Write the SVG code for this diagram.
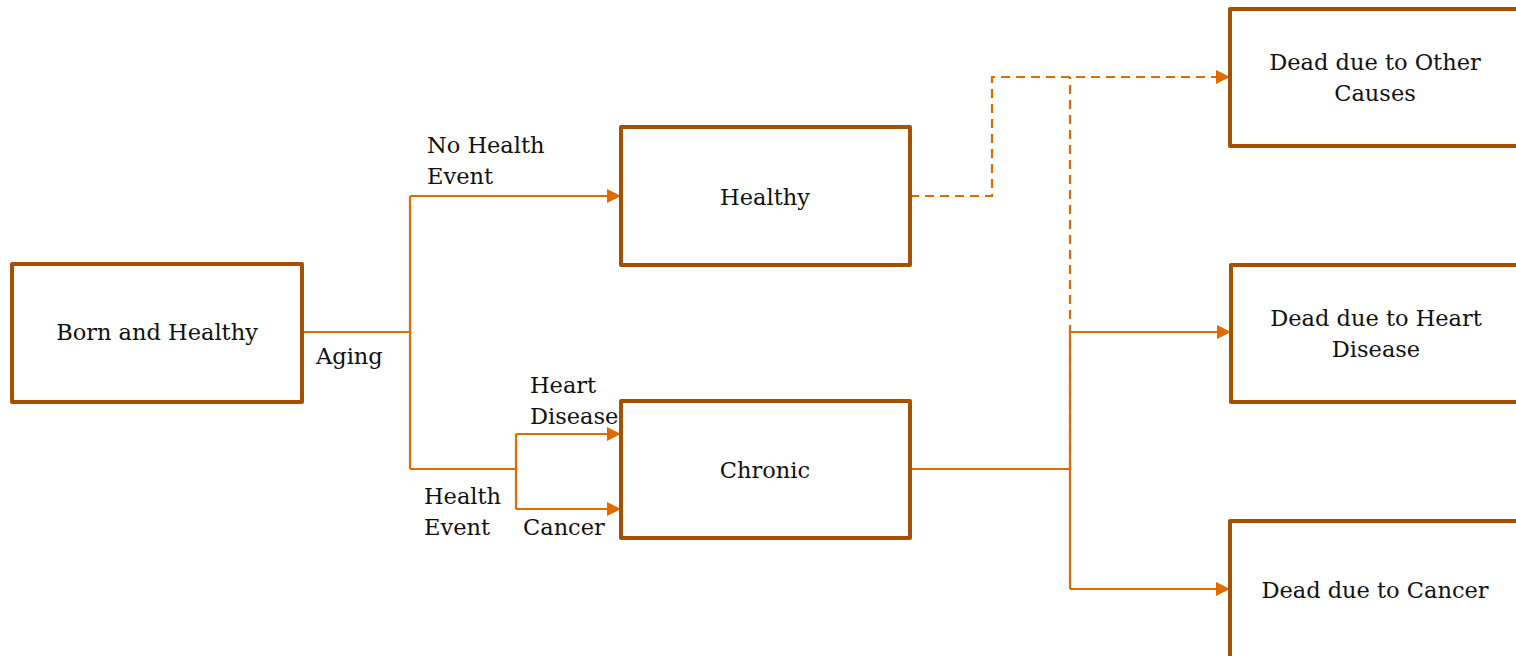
<svg xmlns="http://www.w3.org/2000/svg" width="1516" height="656" viewBox="0 0 1516 656">
  <style>
    .box { fill: #ffffff; stroke: #A65000; stroke-width: 4; stroke-linejoin: round; }
    .lbl { font-family: "DejaVu Serif", "Liberation Serif", serif; font-size: 22.5px; fill: #111111; }
    .ctr { text-anchor: middle; }
    .wire { fill: none; stroke: #E06C00; stroke-width: 2.2; }
    .dash { stroke-dasharray: 9 6; }
  </style>
  <defs>
    <marker id="arrow" viewBox="0 0 10 10" refX="10" refY="5" markerWidth="14" markerHeight="14" markerUnits="userSpaceOnUse" orient="auto">
      <path d="M0,0 L10,5 L0,10 Z" fill="#E06C00"/>
    </marker>
  </defs>

  <g id="connectors">
    <!-- born -> split -->
    <path class="wire" d="M302,332 H410 M410,196 V469"/>
    <path class="wire" d="M410,196 H621" marker-end="url(#arrow)"/>
    <path class="wire" d="M410,469 H516 M516,434 V509"/>
    <path class="wire" d="M516,434 H621" marker-end="url(#arrow)"/>
    <path class="wire" d="M516,509 H621" marker-end="url(#arrow)"/>
    <!-- healthy -> other causes -->
    <path class="wire dash" d="M910,196 H992 V77 H1230" marker-end="url(#arrow)"/>
    <!-- chronic -> other causes -->
    <path class="wire dash" d="M1070,469 V77"/>
    <!-- chronic -> heart disease / cancer -->
    <path class="wire" d="M910,469 H1070 M1070,332 V589"/>
    <path class="wire" d="M1070,332 H1231" marker-end="url(#arrow)"/>
    <path class="wire" d="M1070,589 H1230" marker-end="url(#arrow)"/>
  </g>

  <g id="born">
    <rect class="box" x="12" y="264" width="290" height="138"/>
    <text class="lbl ctr" x="157" y="340">Born and Healthy</text>
  </g>
  <g id="healthy">
    <rect class="box" x="621" y="127" width="289" height="138"/>
    <text class="lbl ctr" x="765" y="205">Healthy</text>
  </g>
  <g id="chronic">
    <rect class="box" x="621" y="401" width="289" height="137"/>
    <text class="lbl ctr" x="765" y="478">Chronic</text>
  </g>
  <g id="dead-other">
    <rect class="box" x="1230" y="9" width="292" height="137"/>
    <text class="lbl ctr" x="1375" y="70">Dead due to Other</text>
    <text class="lbl ctr" x="1375" y="101">Causes</text>
  </g>
  <g id="dead-heart">
    <rect class="box" x="1231" y="265" width="292" height="137"/>
    <text class="lbl ctr" x="1376" y="326">Dead due to Heart</text>
    <text class="lbl ctr" x="1376" y="357">Disease</text>
  </g>
  <g id="dead-cancer">
    <rect class="box" x="1230" y="521" width="292" height="140"/>
    <text class="lbl ctr" x="1375" y="598">Dead due to Cancer</text>
  </g>

  <g id="labels">
    <text class="lbl" x="427" y="153">No Health</text>
    <text class="lbl" x="427" y="184">Event</text>
    <text class="lbl" x="316" y="364">Aging</text>
    <text class="lbl" x="530" y="393">Heart</text>
    <text class="lbl" x="530" y="424">Disease</text>
    <text class="lbl" x="424" y="504">Health</text>
    <text class="lbl" x="424" y="535">Event</text>
    <text class="lbl" x="523" y="535">Cancer</text>
  </g>
</svg>
